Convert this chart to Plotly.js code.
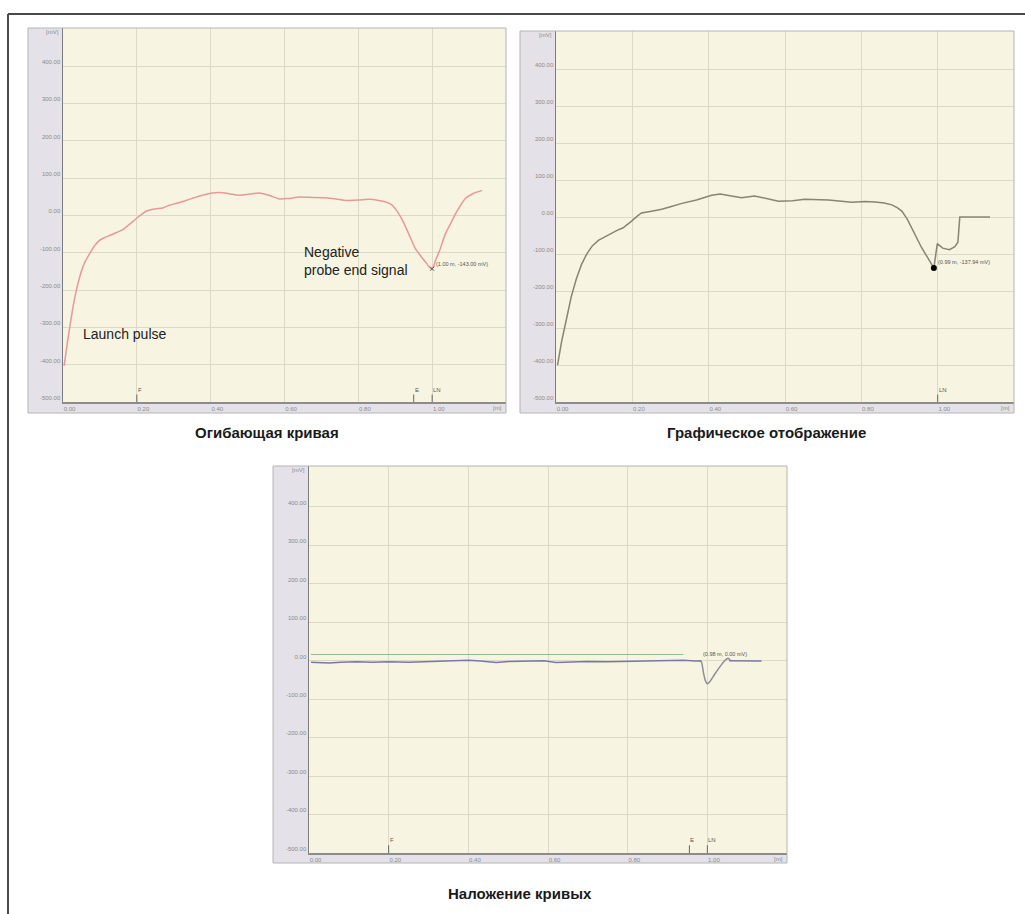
<!DOCTYPE html>
<html><head><meta charset="utf-8">
<script src="https://cdn.plot.ly/plotly-3.0.1.min.js"></script>
<style>html,body{margin:0;padding:0;background:#fff}#chart{width:1025px;height:914px}</style>
</head><body><div id="chart"></div><script>
// ---------- DATA ----------
const chartTitles = ['Огибающая кривая', 'Графическое отображение', 'Наложение кривых'];
const xTickVals = [0, 0.2, 0.4, 0.6, 0.8, 1.0];
const xTickText = ['0.00', '0.20', '0.40', '0.60', '0.80', '1.00'];
const yTickVals = [-500, -400, -300, -200, -100, 0, 100, 200, 300, 400];
const yTickText = ['-500.00', '-400.00', '-300.00', '-200.00', '-100.00', '0.00', '100.00', '200.00', '300.00', '400.00'];
const xUnit = '[m]';
const yUnit = '[mV]';

// Chart 1: envelope curve
const envX = [0.003, 0.012, 0.0225, 0.033, 0.045, 0.058, 0.072, 0.085, 0.099, 0.112, 0.126, 0.145, 0.162, 0.18, 0.198, 0.212, 0.225, 0.24, 0.252, 0.27, 0.288, 0.31, 0.333, 0.355, 0.378, 0.40, 0.423, 0.45, 0.477, 0.505, 0.532, 0.56, 0.586, 0.61, 0.64, 0.675, 0.71, 0.74, 0.766, 0.80, 0.83, 0.855, 0.874, 0.89, 0.90, 0.915, 0.928, 0.942, 0.955, 0.97, 0.982, 0.992, 0.998, 1.004, 1.009, 1.02, 1.036, 1.05, 1.063, 1.077, 1.09, 1.11, 1.135];
const envY = [-403, -340, -273, -215, -166, -128, -103, -82, -67, -60, -54, -46, -38, -24, -9, 2, 11, 16, 18, 20, 27, 33, 40, 47, 54, 59, 61, 58, 54, 57, 60, 53, 44, 45, 49, 48, 47, 44, 40, 41, 43, 40, 36, 29, 18, -5, -31, -62, -90, -110, -125, -138, -143, -136, -121, -95, -49, -22, 4, 27, 45, 58, 67];
const envPoint = {x: 1.00, y: -143.00, label: '(1.00 m, -143.00 mV)'};
const envMarkers = ['F', 'E', 'LN'];
const envMarkerPos = [0.20, 0.95, 1.00];

// Chart 2: graphic display
const grX = [0.004, 0.015, 0.028, 0.04, 0.054, 0.067, 0.08, 0.095, 0.111, 0.13, 0.146, 0.16, 0.176, 0.19, 0.198, 0.212, 0.224, 0.25, 0.277, 0.30, 0.33, 0.368, 0.39, 0.408, 0.43, 0.46, 0.486, 0.52, 0.55, 0.583, 0.62, 0.652, 0.714, 0.775, 0.81, 0.836, 0.86, 0.88, 0.895, 0.906, 0.92, 0.932, 0.958, 0.975, 0.99, 0.999, 1.013, 1.031, 1.045, 1.053, 1.058, 1.137];
const grY = [-400, -335, -273, -215, -165, -128, -101, -78, -63, -52, -43, -36, -29, -18, -11, 2, 11, 16, 21, 28, 37, 46, 52, 59, 62, 56, 52, 57, 50, 43, 44, 48, 46, 40, 42, 41, 38, 33, 25, 16, -5, -29, -83, -112, -137.94, -72, -84, -88, -80, -68, 0, 0];
const grPoint = {x: 0.99, y: -137.94, label: '(0.99 m, -137.94 mV)'};
const grMarkers = ['LN'];
const grMarkerPos = [1.00];

// Chart 3: overlay of curves
const thrX = [0.005, 0.94];
const thrY = [16, 16];
const ovX = [0.005, 0.03, 0.05, 0.08, 0.12, 0.16, 0.20, 0.25, 0.30, 0.35, 0.40, 0.43, 0.47, 0.50, 0.55, 0.59, 0.62, 0.66, 0.70, 0.75, 0.80, 0.85, 0.90, 0.94, 0.97, 0.985];
const ovY = [-4, -5, -6, -4, -3, -4, -3, -4, -2, -1, 1, -1, -5, -2, -1, 0, -5, -3, -2, -3, -2, -2, -1, 1, -1, 0];
const dipX = [0.975, 0.985, 0.99, 0.995, 1.0, 1.008, 1.018, 1.03, 1.042, 1.052, 1.058];
const dipY = [0, -3, -30, -52, -60, -52, -36, -18, -2, 6, 1];
const tailX = [1.055, 1.09, 1.136];
const tailY = [0, -1, -1];
const ovPoint = {x: 0.98, y: 0.00, label: '(0.98 m, 0.00 mV)'};
const ovMarkers = ['F', 'E', 'LN'];
const ovMarkerPos = [0.20, 0.955, 1.00];

const noteLaunch = 'Launch pulse';
const noteProbe = 'Negative<br>probe end signal';

// ---------- LAYOUT GEOMETRY (pixels) ----------
const W = 1025, H = 914;
const FONT = 'Liberation Sans, Arial, Helvetica, sans-serif';
// box: outer chart frame; plot: inner plotting area
const boxes = [
  {L: 28, T: 28, R: 506, B: 413, pL: 63, pB: 402},
  {L: 520, T: 31, R: 1014, B: 413, pL: 556, pB: 402},
  {L: 273, T: 466, R: 787, B: 863, pL: 309, pB: 853}
];
const px = v => v / W;
const py = v => 1 - v / H;

const layout = {
  width: W, height: H,
  margin: {l: 0, r: 0, t: 0, b: 0},
  paper_bgcolor: '#ffffff',
  plot_bgcolor: '#f7f4e1',
  showlegend: false,
  font: {family: FONT, color: '#333'},
  shapes: [], annotations: []
};

const axisX = (b, anchor) => ({
  domain: [px(b.pL), px(b.R)], anchor: anchor, range: [0, 1.2],
  tickvals: xTickVals, ticktext: xTickText, ticks: '',
  ticklabelposition: 'outside right',
  tickfont: {size: 6, color: '#8a8a8a', family: FONT},
  showgrid: true, gridcolor: '#dcd9c6', gridwidth: 1, zeroline: false,
  showline: true, linecolor: '#8c8c8c', linewidth: 1.5, fixedrange: true
});
const axisY = (b, anchor, top) => ({
  domain: [py(b.pB), py(b.T)], anchor: anchor, range: [-500, top],
  tickvals: yTickVals, ticktext: yTickText, ticks: '',
  ticklabelposition: 'outside top',
  tickfont: {size: 6, color: '#8a8a8a', family: FONT},
  showgrid: true, gridcolor: '#dcd9c6', gridwidth: 1, zeroline: false,
  showline: true, linecolor: '#7c7c7c', linewidth: 1.5, fixedrange: true
});

layout.xaxis = axisX(boxes[0], 'y');
layout.yaxis = axisY(boxes[0], 'x', 502);
layout.xaxis2 = axisX(boxes[1], 'y2');
layout.yaxis2 = axisY(boxes[1], 'x2', 503);
layout.xaxis3 = axisX(boxes[2], 'y3');
layout.yaxis3 = axisY(boxes[2], 'x3', 506);

// outer frame of page
layout.shapes.push({type: 'line', xref: 'paper', yref: 'paper', x0: px(8), x1: px(8), y0: py(14), y1: 0, line: {color: '#4a4a4a', width: 2}});
layout.shapes.push({type: 'line', xref: 'paper', yref: 'paper', x0: px(8), x1: 1, y0: py(14), y1: py(14), line: {color: '#4a4a4a', width: 2}});

// gray side panels and frames
boxes.forEach((b, i) => {
  layout.shapes.push({type: 'rect', xref: 'paper', yref: 'paper', layer: 'below',
    x0: px(b.L), x1: px(b.pL), y0: py(b.B), y1: py(b.T), fillcolor: '#e4e2e8', line: {width: 0}});
  layout.shapes.push({type: 'rect', xref: 'paper', yref: 'paper', layer: 'below',
    x0: px(b.pL), x1: px(b.R), y0: py(b.B), y1: py(b.pB), fillcolor: '#e4e2e8', line: {width: 0}});
  layout.shapes.push({type: 'rect', xref: 'paper', yref: 'paper',
    x0: px(b.L), x1: px(b.R), y0: py(b.B), y1: py(b.T), fillcolor: 'rgba(0,0,0,0)', line: {color: '#b4b4b4', width: 1}});
  // units
  layout.annotations.push({xref: 'paper', yref: 'paper', x: px(b.pL - 2), y: py(b.T + 4), xanchor: 'right', yanchor: 'middle',
    text: yUnit, showarrow: false, font: {size: 6, color: '#8a8a8a', family: FONT}});
  layout.annotations.push({xref: 'paper', yref: 'paper', x: px(b.R - 2), y: py((b.pB + b.B) / 2 + 0.5), xanchor: 'right', yanchor: 'middle',
    text: xUnit, showarrow: false, font: {size: 6, color: '#8a8a8a', family: FONT}});
});

// position markers (F, E, LN)
function addMarkers(names, pos, ax) {
  names.forEach((n, i) => {
    layout.shapes.push({type: 'line', xref: 'x' + ax, yref: 'y' + ax + ' domain', x0: pos[i], x1: pos[i], y0: 0, y1: 0.02,
      line: {color: '#666', width: 1}});
    layout.annotations.push({xref: 'x' + ax, yref: 'y' + ax + ' domain', x: pos[i], y: 0.02, xanchor: 'left', yanchor: 'bottom',
      xshift: -1, text: n, showarrow: false, font: {size: 6, color: '#555', family: FONT}});
  });
}
addMarkers(envMarkers, envMarkerPos, '');
addMarkers(grMarkers, grMarkerPos, '2');
addMarkers(ovMarkers, ovMarkerPos, '3');

// point labels
function addPointLabel(p, ax, yshift) {
  layout.annotations.push({xref: 'x' + ax, yref: 'y' + ax, x: p.x, y: p.y, xanchor: 'left', yanchor: 'middle',
    xshift: 2, yshift: yshift, text: p.label, showarrow: false, font: {size: 5.5, color: '#555', family: FONT}});
}
addPointLabel(envPoint, '', 5);
addPointLabel(grPoint, '2', 6);
addPointLabel(ovPoint, '3', 7);

// titles
const titlePos = [[267, 433], [766, 433], [520, 893]];
chartTitles.forEach((t, i) => {
  layout.annotations.push({xref: 'paper', yref: 'paper', x: px(titlePos[i][0]), y: py(titlePos[i][1]),
    xanchor: 'center', yanchor: 'middle', text: '<b>' + t + '</b>', showarrow: false,
    font: {size: 15, color: '#1a1a1a', family: FONT}});
});

// notes on chart 1
layout.annotations.push({xref: 'paper', yref: 'paper', x: px(81), y: py(334), xanchor: 'left', yanchor: 'middle',
  text: noteLaunch, showarrow: false, font: {size: 14, color: '#222', family: FONT}});
layout.annotations.push({xref: 'paper', yref: 'paper', x: px(302), y: py(261), xanchor: 'left', yanchor: 'middle', align: 'left',
  text: noteProbe, showarrow: false, font: {size: 14, color: '#222', family: FONT}});

// ---------- TRACES ----------
const traces = [
  {x: envX, y: envY, xaxis: 'x', yaxis: 'y', mode: 'lines', line: {color: '#e49a98', width: 1.5, shape: 'spline', smoothing: 0.6}, hoverinfo: 'skip'},
  {x: [envPoint.x], y: [envPoint.y], xaxis: 'x', yaxis: 'y', mode: 'markers', marker: {color: '#555', size: 4, symbol: 'x-thin', line: {color: '#555', width: 1}}, hoverinfo: 'skip'},
  {x: grX, y: grY, xaxis: 'x2', yaxis: 'y2', mode: 'lines', line: {color: '#868676', width: 1.5}, hoverinfo: 'skip'},
  {x: [grPoint.x], y: [grPoint.y], xaxis: 'x2', yaxis: 'y2', mode: 'markers', marker: {color: '#000', size: 6}, hoverinfo: 'skip'},
  {x: thrX, y: thrY, xaxis: 'x3', yaxis: 'y3', mode: 'lines', line: {color: '#8dbf8a', width: 1.2}, hoverinfo: 'skip'},
  {x: ovX, y: ovY, xaxis: 'x3', yaxis: 'y3', mode: 'lines', line: {color: '#7a78a8', width: 1.5}, hoverinfo: 'skip'},
  {x: dipX, y: dipY, xaxis: 'x3', yaxis: 'y3', mode: 'lines', line: {color: '#8e8e98', width: 1.5, shape: 'spline', smoothing: 0.5}, hoverinfo: 'skip'},
  {x: tailX, y: tailY, xaxis: 'x3', yaxis: 'y3', mode: 'lines', line: {color: '#7a78a8', width: 1.5}, hoverinfo: 'skip'}
];

Plotly.newPlot('chart', traces, layout, {displayModeBar: false, staticPlot: true});
</script></body></html>
